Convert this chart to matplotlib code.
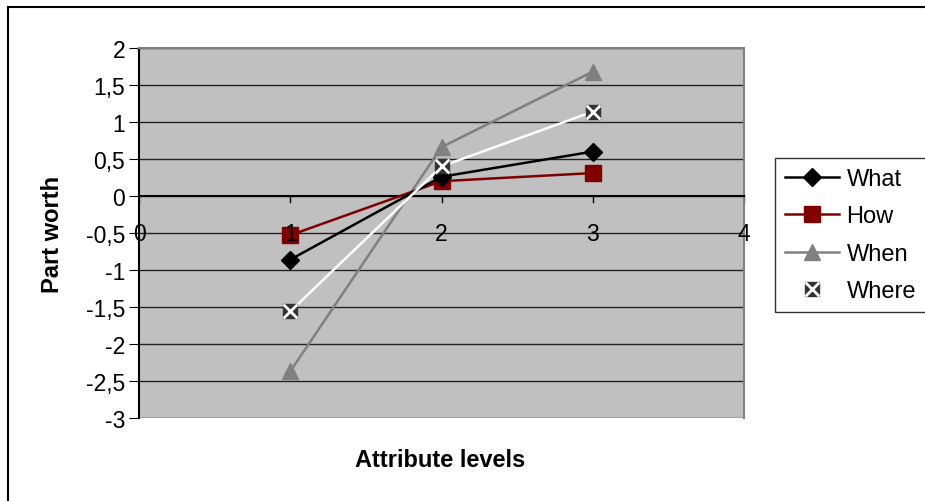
import matplotlib
matplotlib.use("Agg")
import matplotlib.pyplot as plt
from matplotlib.patches import Rectangle
from matplotlib.ticker import FuncFormatter

plt.rcParams["font.family"] = ["Liberation Sans", "DejaVu Sans"]

# attribute levels and part worth estimates per attribute
levels = [1, 2, 3]
what = [-0.86, 0.26, 0.60]
how = [-0.53, 0.20, 0.31]
when = [-2.37, 0.66, 1.68]
where = [-1.56, 0.40, 1.14]

x_ticks = [0, 1, 2, 3, 4]
y_ticks = [2, 1.5, 1, 0.5, 0, -0.5, -1, -1.5, -2, -2.5, -3]


def comma(v, pos):
    return ("%g" % v).replace(".", ",")


fig = plt.figure(figsize=(9.25, 5.02), dpi=100)
W, H = 925, 502
ax = fig.add_axes([139 / W, 1 - 419 / H, 605 / W, 370 / H])
ax.set_facecolor("#c0c0c0")

# outer chart frame (left and top edges only are visible)
fig.patches.append(Rectangle((8 / W, -0.1), 1.2, 1 - 7.5 / H + 0.1,
                             transform=fig.transFigure, fill=False,
                             edgecolor="black", linewidth=1.5))

for yv in y_ticks:
    ax.axhline(yv, color="#222222", linewidth=1.0, zorder=1)

ax.plot(levels, what, color="black", marker="D", markersize=9, linewidth=1.8,
        label="What", zorder=4)
ax.plot(levels, how, color="#800000", marker="s", markersize=11, linewidth=1.8,
        label="How", zorder=3)
ax.plot(levels, when, color="#808080", marker="^", markersize=11, linewidth=1.8,
        label="When", zorder=2)
ax.plot(levels, where, color="white", linewidth=1.8, zorder=5)
sq, = ax.plot(levels, where, linestyle="none", marker="s", markersize=10,
              color="#333333", zorder=6)
xx, = ax.plot(levels, where, linestyle="none", marker="x", markersize=10,
              markeredgewidth=2, color="white", zorder=7)

ax.set_xlim(0, 4)
ax.set_ylim(-3, 2)
ax.set_xticks(x_ticks)
ax.set_yticks(y_ticks)
ax.yaxis.set_major_formatter(FuncFormatter(comma))
ax.xaxis.set_zorder(10)

ax.spines["bottom"].set_position(("data", 0))
ax.spines["bottom"].set_color("black")
ax.spines["top"].set_color("#808080")
ax.spines["right"].set_color("#808080")
ax.spines["left"].set_color("black")
for s in ax.spines.values():
    s.set_linewidth(1.5)
ax.tick_params(axis="x", direction="in", length=6, pad=19, labelsize=16.5,
               bottom=False, top=False)
ax.tick_params(axis="y", direction="out", length=7, labelsize=16.5, pad=3)
for xv in x_ticks:
    ax.plot([xv, xv], [0, -0.08], color="black", linewidth=1, zorder=2,
            clip_on=False)

ax.set_ylabel("Part worth", fontsize=17, fontweight="bold")
ax.yaxis.set_label_coords(-75 / 605, 0.5)
fig.text(440 / W, 1 - 461 / H, "Attribute levels", fontsize=17,
         fontweight="bold", ha="center", va="center")

handles, labels = ax.get_legend_handles_labels()
handles.append((sq, xx))
labels.append("Where")
leg = fig.legend(handles, labels, loc="upper left",
                 bbox_to_anchor=(775 / W, 1 - 159 / H), fontsize=17,
                 frameon=True, fancybox=False, borderpad=0.43,
                 labelspacing=0.65, handlelength=2.3, handletextpad=0.3,
                 borderaxespad=0)
leg.get_frame().set_edgecolor("black")
leg.get_frame().set_linewidth(1.0)

fig.savefig("out.png", dpi=100)
